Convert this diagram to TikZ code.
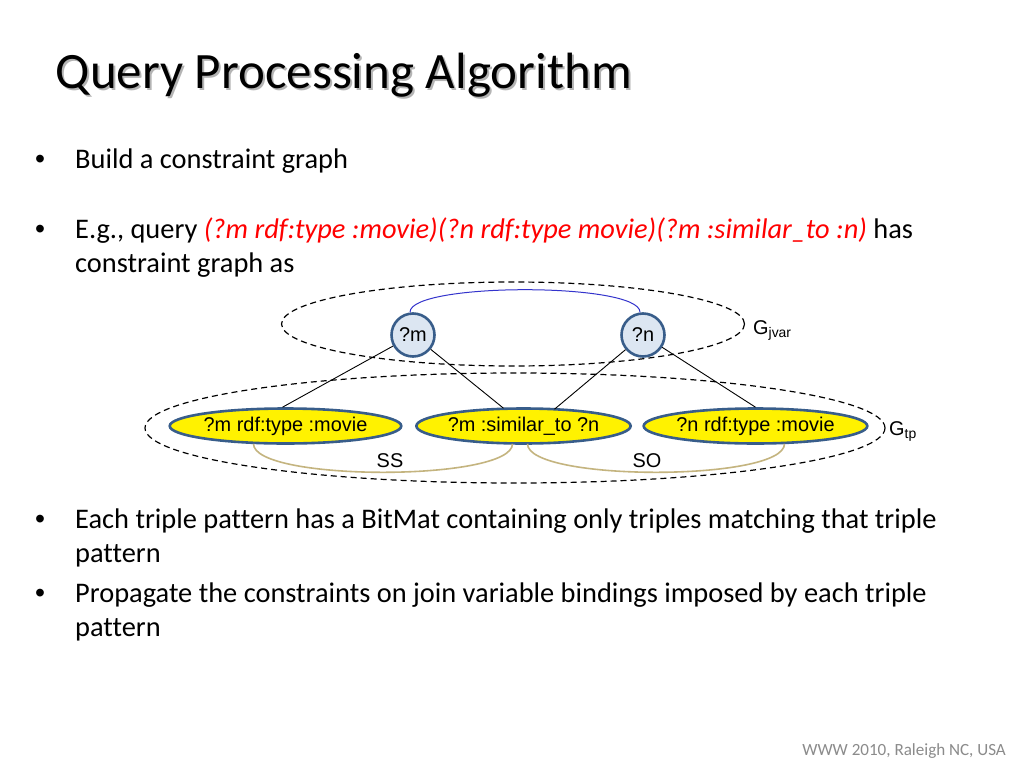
\documentclass[tikz,border=0pt]{standalone}
\usepackage{fontspec}
\setmainfont[Ligatures=NoCommon]{Carlito}
\newfontfamily\arialf{Liberation Sans}
\usetikzlibrary{shapes.geometric}
\definecolor{nodeborder}{HTML}{385D8A}
\definecolor{varfill}{HTML}{DCE6F2}
\definecolor{tanline}{HTML}{C4B47F}
\definecolor{arcblue}{HTML}{3333CC}
\definecolor{footgray}{HTML}{8B8B8B}
\definecolor{shadowgray}{HTML}{B4B4B4}
\tikzset{
  bodytext/.style={anchor=base west,inner sep=0pt,font=\fontsize{28.4}{34}\selectfont},
  bullet/.style={anchor=base west,inner sep=0pt,font=\arialf\fontsize{28.4}{34}\selectfont},
  varnode/.style={circle,draw=nodeborder,fill=varfill,line width=2.6pt,minimum size=43pt,inner sep=0pt,font=\arialf\fontsize{19.9}{22}\selectfont},
  tpnode/.style={ellipse,draw=nodeborder,fill=yellow,line width=2.6pt,minimum width=213pt,minimum height=35pt,inner sep=0pt,font=\arialf\fontsize{19.9}{22}\selectfont},
  groupell/.style={ellipse,draw=black,line width=1.2pt,dash pattern=on 6pt off 4pt,inner sep=0pt},
  edge/.style={draw=black,line width=0.9pt},
  joinarc/.style={draw=tanline,line width=1.6pt},
  vararc/.style={draw=arcblue,line width=1pt},
  difftext/.style={inner sep=0pt,font=\arialf\fontsize{19.9}{22}\selectfont},
  grouplabel/.style={anchor=base west,inner sep=0pt,font=\arialf\fontsize{19.9}{22}\selectfont}
}
\begin{document}
\begin{tikzpicture}[x=1pt,y=-1pt]
\useasboundingbox[fill=white] (0,0) rectangle (1024,768);
% title with shadow
\node[anchor=base west,inner sep=0pt,text=shadowgray,font=\fontsize{51}{60}\selectfont] (titleshadow) at (57.5,90) {Query Processing Algorithm};
\node[anchor=base west,inner sep=0pt,font=\fontsize{51}{60}\selectfont] (title) at (55.5,88) {Query Processing Algorithm};
% bullets
\node[bullet] (b1) at (35,168) {•};
\node[bodytext] (t1) at (75,168) {Build a constraint graph};
\node[bullet] (b2) at (35,238) {•};
\node[bodytext] (t2) at (75,238) {E.g., query \textcolor{red}{\itshape (?m rdf:type :movie)(?n rdf:type movie)(?m :similar\_to :n)} has};
\node[bodytext] (t2b) at (75,272) {constraint graph as};
\node[bullet] (b3) at (35,528) {•};
\node[bodytext] (t3) at (75,528) {Each triple pattern has a BitMat containing only triples matching that triple};
\node[bodytext] (t3b) at (75,562) {pattern};
\node[bullet] (b4) at (35,602) {•};
\node[bodytext] (t4) at (75,602) {Propagate the constraints on join variable bindings imposed by each triple};
\node[bodytext] (t4b) at (75,636) {pattern};
\node[anchor=base east,inner sep=0pt,text=footgray,font=\fontsize{17.07}{20}\selectfont] (foot) at (1006,755) {WWW 2010, Raleigh NC, USA};
% group ellipses
\node[groupell,minimum width=463pt,minimum height=84pt] (gjvar) at (513,324) {};
\node[groupell,minimum width=740pt,minimum height=110pt] (gtp) at (515,428) {};
\node[grouplabel] (gjvarl) at (753,334) {G\textsubscript{jvar}};
\node[grouplabel] (gtpl) at (889,435) {G\textsubscript{tp}};
% variable nodes
\node[varnode] (m) at (413,335) {?m};
\node[varnode] (n) at (643,335) {?n};
% triple pattern nodes
\node[tpnode] (tp1) at (285.5,426) {?m rdf:type :movie};
\node[tpnode] (tp2) at (523.5,426) {?m :similar\_to ?n};
\node[tpnode] (tp3) at (755.5,426) {?n rdf:type :movie};
% edges
\draw[edge] (m) -- ([xshift=-3pt]tp1.north);
\draw[edge] (m) -- ([xshift=-20pt,yshift=-1pt]tp2.north);
\draw[edge] (n) -- ([xshift=31pt,yshift=-2pt]tp2.north);
\draw[edge] (n) -- (tp3.north);
% join arcs
\draw[vararc] ([xshift=-3pt]m.north) .. controls +(0,-30) and +(0,-30) .. ([xshift=-3pt]n.north);
\draw[joinarc] ([xshift=-32pt,yshift=1pt]tp1.south) .. controls +(0,38) and +(0,38) .. ([xshift=-11pt,yshift=1pt]tp2.south);
\draw[joinarc] ([xshift=4pt,yshift=1pt]tp2.south) .. controls +(0,38) and +(0,38) .. ([xshift=29pt,yshift=1pt]tp3.south);
\node[difftext] (ss) at (390,461) {SS};
\node[difftext] (so) at (647,461) {SO};
\end{tikzpicture}
\end{document}
